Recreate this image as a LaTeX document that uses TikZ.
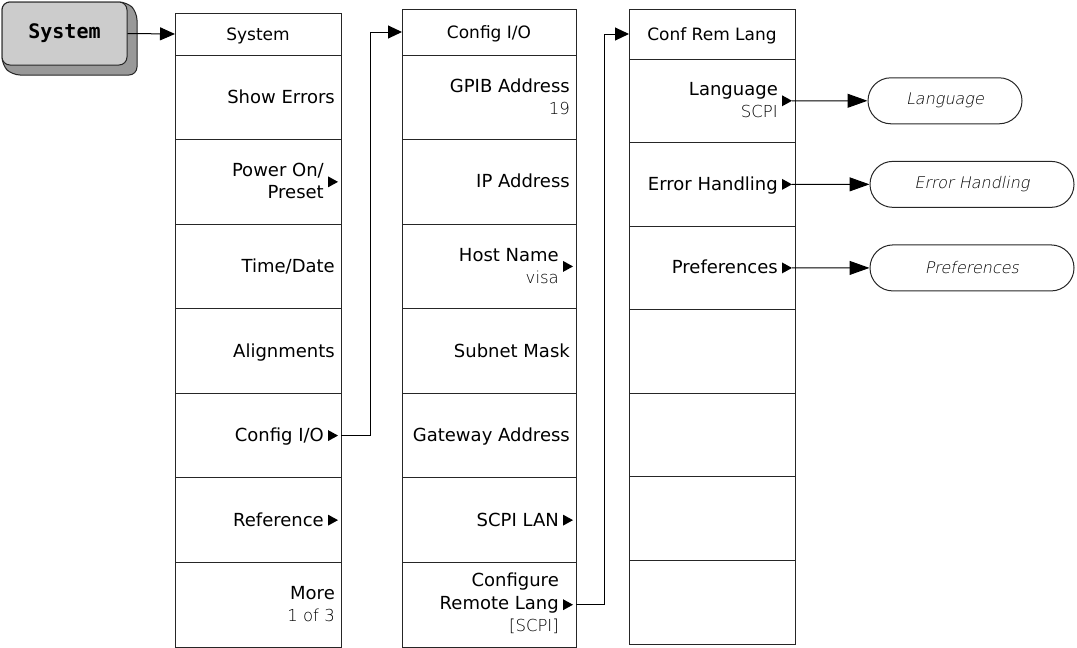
\documentclass[tikz,border=0pt]{standalone}
\usepackage{fontspec}
\setmainfont{DejaVu Sans}
\newfontfamily\keyfont{DejaVu Sans Mono}
\newfontfamily\valfont{DejaVu Sans ExtraLight}
\newfontfamily\ovalfont{DejaVu Sans ExtraLight}[FakeSlant=0.2]
\usetikzlibrary{arrows.meta}

% small filled softkey marker: #1 = tip coordinate name, #2 = cell
\newcommand\skmark[2]{%
  \coordinate (#1) at ([xshift=-3pt]#2.east);
  \fill[black] (#1) -- ++(-10,-5.5) -- ++(0,11) -- cycle;}

\begin{document}
\begin{tikzpicture}[x=1pt,y=-1pt,
  frame/.style={draw=black!85, line width=1pt},
  cell/.style={frame, inner sep=0pt, outer sep=0pt},
  colA/.style={cell, minimum width=166pt, minimum height=84.57pt},
  colB/.style={cell, minimum width=174pt, minimum height=84.57pt},
  colC/.style={cell, minimum width=166pt, minimum height=83.57pt},
  hdr/.style={inner sep=0pt, anchor=base, font=\fontsize{17}{20}\selectfont},
  item/.style={inner sep=0pt, anchor=base east, font=\fontsize{18}{22}\selectfont},
  val/.style={inner sep=0pt, anchor=base east, text=black,
    font=\valfont\fontsize{16.5}{20}\selectfont},
  oval/.style={draw=black!85, line width=1pt, rounded corners=22.9pt,
    minimum height=46pt, inner sep=0pt, text=black,
    font=\ovalfont\fontsize{16}{20}\selectfont},
  link/.style={draw=black, line width=1pt},
  tipS/.style={-{Triangle[length=14pt,width=13pt]}},
  tipL/.style={-{Triangle[length=20pt,width=14pt]}}]

\useasboundingbox (0,0) rectangle (1077,648);

% hard key with its raised edge
\draw[fill=black!40, draw=black!85, line width=1pt, rounded corners=8pt]
  (2,2) -- (127,2) -- (137,12) -- (137,75) -- (12,75) -- (2,65) -- cycle;
\node[draw=black!85, fill=black!20, line width=1pt, rounded corners=8pt,
  minimum width=125pt, minimum height=63pt, inner sep=0pt,
  font=\keyfont\bfseries\fontsize{20}{24}\selectfont] (key) at (64.5,33.5) {System};

% ---- menu 1: System ----
\node[cell, minimum width=166pt, minimum height=42pt] (s0) at (258,34) {};
\node[hdr] (s0t) at ([yshift=-6pt]s0.center) {System};
\foreach \i in {1,...,7}
  \node[colA] (s\i) at (258,{55+84.571*(\i-0.5)}) {};
\node[item] (s1t) at ([xshift=-6pt,yshift=-6pt]s1.east) {Show Errors};
\node[item] (s2t) at ([xshift=-17pt,yshift=5pt]s2.east) {Power On/};
\node[item] (s2u) at ([xshift=-17pt,yshift=-17pt]s2.east) {Preset};
\skmark{m2}{s2}
\node[item] (s3t) at ([xshift=-6pt,yshift=-6pt]s3.east) {Time/Date};
\node[item] (s4t) at ([xshift=-6pt,yshift=-6pt]s4.east) {Alignments};
\node[item] (s5t) at ([xshift=-17pt,yshift=-6pt]s5.east) {Config I/O};
\skmark{m5}{s5}
\node[item] (s6t) at ([xshift=-17pt,yshift=-6pt]s6.east) {Reference};
\skmark{m6}{s6}
\node[item] (s7t) at ([xshift=-6pt,yshift=5pt]s7.east) {More};
\node[val] (s7u) at ([xshift=-6pt,yshift=-17pt]s7.east) {1 of 3};

% ---- menu 2: Config I/O ----
\node[cell, minimum width=174pt, minimum height=46pt] (c0) at (489,32) {};
\node[hdr] (c0t) at ([yshift=-6pt]c0.center) {Config I/O};
\foreach \i in {1,...,7}
  \node[colB] (c\i) at (489,{55+84.571*(\i-0.5)}) {};
\node[item] (c1t) at ([xshift=-6pt,yshift=5pt]c1.east) {GPIB Address};
\node[val] (c1u) at ([xshift=-6pt,yshift=-17pt]c1.east) {19};
\node[item] (c2t) at ([xshift=-6pt,yshift=-6pt]c2.east) {IP Address};
\node[item] (c3t) at ([xshift=-17pt,yshift=5pt]c3.east) {Host Name};
\node[val] (c3u) at ([xshift=-17pt,yshift=-17pt]c3.east) {visa};
\skmark{n3}{c3}
\node[item] (c4t) at ([xshift=-6pt,yshift=-6pt]c4.east) {Subnet Mask};
\node[item] (c5t) at ([xshift=-6pt,yshift=-6pt]c5.east) {Gateway Address};
\node[item] (c6t) at ([xshift=-17pt,yshift=-6pt]c6.east) {SCPI LAN};
\skmark{n6}{c6}
\node[item] (c7t) at ([xshift=-17pt,yshift=18pt]c7.east) {Configure};
\node[item] (c7u) at ([xshift=-17pt,yshift=-5pt]c7.east) {Remote Lang};
\node[val] (c7v) at ([xshift=-17pt,yshift=-27pt]c7.east) {[SCPI]};
\skmark{n7}{c7}

% ---- menu 3: Conf Rem Lang ----
\node[cell, minimum width=166pt, minimum height=50pt] (r0) at (712,34) {};
\node[hdr] (r0t) at ([yshift=-6pt]r0.center) {Conf Rem Lang};
\foreach \i in {1,...,7}
  \node[colC] (r\i) at (712,{59+83.571*(\i-0.5)}) {};
\node[item] (r1t) at ([xshift=-17pt,yshift=5pt]r1.east) {Language};
\node[val] (r1u) at ([xshift=-17pt,yshift=-17pt]r1.east) {SCPI};
\skmark{p1}{r1}
\node[item] (r2t) at ([xshift=-17pt,yshift=-6pt]r2.east) {Error Handling};
\skmark{p2}{r2}
\node[item] (r3t) at ([xshift=-17pt,yshift=-6pt]r3.east) {Preferences};
\skmark{p3}{r3}

% ---- referenced topics ----
\node[oval, minimum width=154pt] (o1) at (945,100.79) {Language};
\node[oval, minimum width=204pt] (o2) at (972,184.36) {Error Handling};
\node[oval, minimum width=204pt] (o3) at (972,267.93) {Preferences};

% ---- connectors ----
\draw[link, -{Triangle[length=15pt,width=13pt]}] (key.east) -- (s0.west);
\draw[link, tipS] (s5.east) -- ++(29,0) |- (c0.west);
\draw[link, tipS] (c7.east) -- ++(28,0) |- (r0.west);
\draw[link, tipL] (p1) -- (o1.west);
\draw[link, tipL] (p2) -- (o2.west);
\draw[link, tipL] (p3) -- (o3.west);
\end{tikzpicture}
\end{document}
